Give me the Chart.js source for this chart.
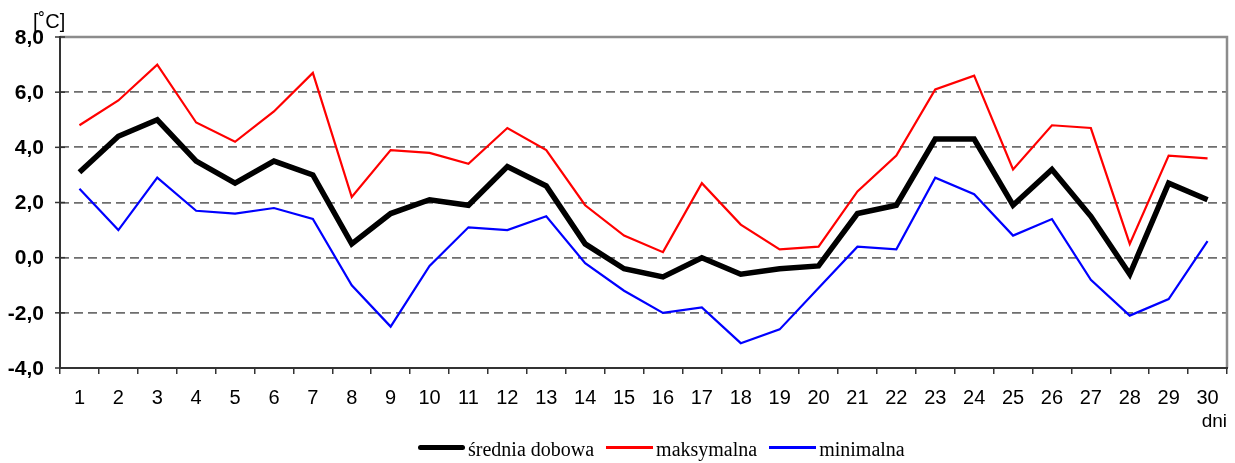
<!DOCTYPE html>
<html>
<head>
<meta charset="utf-8">
<script src="https://cdn.jsdelivr.net/npm/chart.js@4"></script>
<style>
  html, body { margin: 0; padding: 0; background: #fff; }
  #wrap { position: relative; width: 1235px; height: 463px; }
  #unit { position: absolute; left: 33px; top: 10px; font: 20px "Liberation Sans", Arial, sans-serif; color: #000; }
  #legend { position: absolute; left: 418px; top: 439px; display: flex; align-items: center; font: 20px "Liberation Serif", "Times New Roman", serif; color: #000; white-space: nowrap; line-height: 20px; }
  #legend .ln { display: inline-block; width: 47px; position: relative; top: -2px; margin-right: 3px; }
  #legend .gap { display: inline-block; width: 12px; }
</style>
</head>
<body>
<div id="wrap">
  <canvas id="c" width="1235" height="463"></canvas>
  <div id="unit">[˚C]</div>
  <div id="legend"></div>
</div>
<script>
const days = ['1','2','3','4','5','6','7','8','9','10','11','12','13','14','15','16','17','18','19','20','21','22','23','24','25','26','27','28','29','30'];
const seriesNames = ['średnia dobowa', 'maksymalna', 'minimalna'];
const sredniaDobowa = [3.1, 4.4, 5.0, 3.5, 2.7, 3.5, 3.0, 0.5, 1.6, 2.1, 1.9, 3.3, 2.6, 0.5, -0.4, -0.7, 0.0, -0.6, -0.4, -0.3, 1.6, 1.9, 4.3, 4.3, 1.9, 3.2, 1.5, -0.6, 2.7, 2.1];
const maksymalna = [4.8, 5.7, 7.0, 4.9, 4.2, 5.3, 6.7, 2.2, 3.9, 3.8, 3.4, 4.7, 3.9, 1.9, 0.8, 0.2, 2.7, 1.2, 0.3, 0.4, 2.4, 3.7, 6.1, 6.6, 3.2, 4.8, 4.7, 0.5, 3.7, 3.6];
const minimalna = [2.5, 1.0, 2.9, 1.7, 1.6, 1.8, 1.4, -1.0, -2.5, -0.3, 1.1, 1.0, 1.5, -0.2, -1.2, -2.0, -1.8, -3.1, -2.6, -1.1, 0.4, 0.3, 2.9, 2.3, 0.8, 1.4, -0.8, -2.1, -1.5, 0.6];
const yMin = -4, yMax = 8, yStep = 2;
const xTitle = 'dni';

const colors = ['#000000', '#ff0000', '#0000ff'];
const widths = [5.5, 2.2, 2.2];
const legendWidths = [5, 3, 3];

const leg = document.getElementById('legend');
seriesNames.forEach((n, i) => {
  if (i > 0) { const g = document.createElement('span'); g.className = 'gap'; leg.appendChild(g); }
  const l = document.createElement('span'); l.className = 'ln';
  l.style.height = legendWidths[i] + 'px'; l.style.background = colors[i];
  if (i === 0) l.style.borderRadius = '3px';
  leg.appendChild(l);
  const t = document.createElement('span'); t.textContent = n; leg.appendChild(t);
});

const framePlugin = {
  id: 'frame',
  afterDraw(chart) {
    const {ctx, chartArea: a, scales: {y}} = chart;
    ctx.save();
    ctx.setLineDash([]);
    ctx.strokeStyle = '#8c8c8c';
    ctx.lineWidth = 2.5;
    ctx.beginPath();
    ctx.moveTo(a.left, a.top); ctx.lineTo(a.right, a.top); ctx.lineTo(a.right, a.bottom);
    ctx.stroke();
    ctx.strokeStyle = '#333';
    ctx.lineWidth = 2;
    ctx.beginPath();
    ctx.moveTo(a.left, a.top - 1); ctx.lineTo(a.left, a.bottom); ctx.lineTo(a.right + 1, a.bottom);
    ctx.stroke();
    ctx.lineWidth = 1.5;
    y.ticks.forEach(t => {
      const py = y.getPixelForValue(t.value);
      ctx.beginPath(); ctx.moveTo(a.left - 5, py); ctx.lineTo(a.left + 5, py); ctx.stroke();
    });
    ctx.restore();
  }
};

new Chart(document.getElementById('c'), {
  type: 'line',
  data: {
    labels: days,
    datasets: [
      { label: seriesNames[0], data: sredniaDobowa, borderColor: colors[0], backgroundColor: colors[0], borderWidth: widths[0], pointRadius: 0, tension: 0, order: 0 },
      { label: seriesNames[1], data: maksymalna, borderColor: colors[1], backgroundColor: colors[1], borderWidth: widths[1], pointRadius: 0, tension: 0, order: 1 },
      { label: seriesNames[2], data: minimalna, borderColor: colors[2], backgroundColor: colors[2], borderWidth: widths[2], pointRadius: 0, tension: 0, order: 2 }
    ]
  },
  options: {
    responsive: false,
    animation: false,
    layout: { padding: { left: 0, right: 8, top: 37, bottom: 30 } },
    plugins: { legend: { display: false }, tooltip: { enabled: false } },
    scales: {
      x: {
        type: 'category',
        offset: true,
        afterFit(s) { s.height = 65; },
        grid: { drawOnChartArea: false, drawTicks: true, tickLength: 6, color: '#333', lineWidth: 1.5, offset: true },
        border: { display: false },
        ticks: { color: '#000', font: { family: '"Liberation Sans", Arial, sans-serif', size: 20 }, padding: 12, maxRotation: 0, autoSkip: false },
        title: { display: true, text: xTitle, align: 'end', color: '#000', font: { family: '"Liberation Sans", Arial, sans-serif', size: 19 }, padding: { top: 0, bottom: 0 } }
      },
      y: {
        min: yMin, max: yMax,
        afterFit(s) { s.width = 60; },
        grid: {
          drawTicks: false,
          color: (c) => (c.tick && (c.tick.value === yMin || c.tick.value === yMax)) ? 'rgba(0,0,0,0)' : '#6e6e6e',
          lineWidth: 1.7
        },
        border: { display: false, dash: [9, 5] },
        ticks: {
          stepSize: yStep, padding: 16, labelOffset: 1, color: '#000',
          font: { family: '"Liberation Sans", Arial, sans-serif', size: 21, weight: 'bold' },
          callback: (v) => v.toFixed(1).replace('.', ',')
        }
      }
    }
  },
  plugins: [framePlugin]
});
</script>
</body>
</html>
